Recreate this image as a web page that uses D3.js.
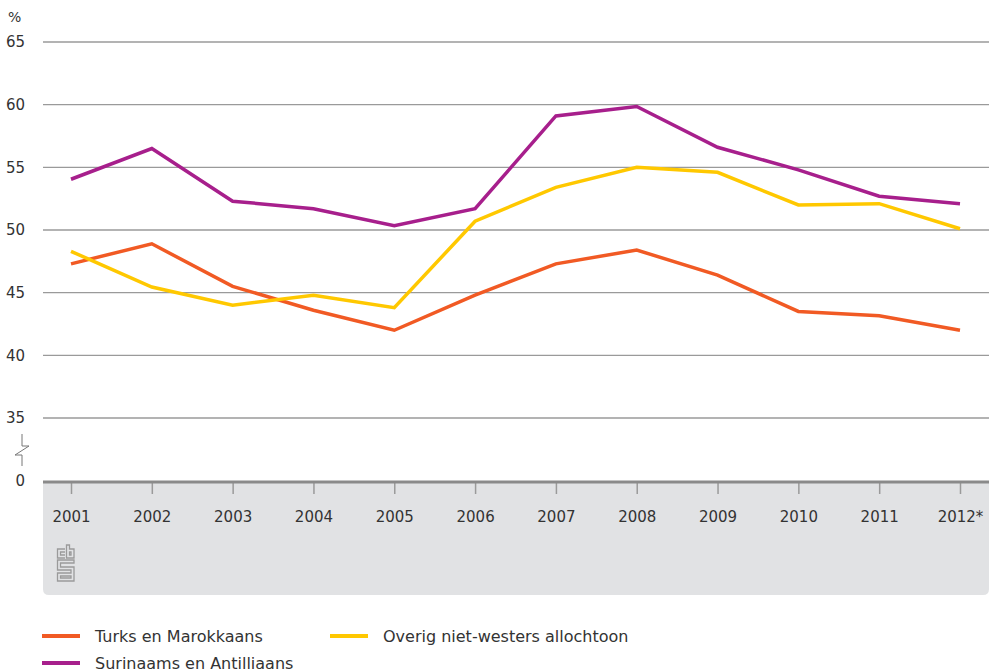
<!DOCTYPE html>
<html>
<head>
<meta charset="utf-8">
<script src="https://cdn.jsdelivr.net/npm/d3@7"></script>
<style>
  body { margin: 0; background: #fff; }
  svg text { font-family: "DejaVu Sans", sans-serif; fill: #333; }
</style>
</head>
<body>
<div id="chart"></div>
<script>
// data
const years = ["2001", "2002", "2003", "2004", "2005", "2006", "2007", "2008", "2009", "2010", "2011", "2012*"];
const turks = [47.3, 48.9, 45.5, 43.6, 42.0, 44.8, 47.3, 48.4, 46.4, 43.5, 43.15, 42.0];
const surinaams = [54.05, 56.5, 52.3, 51.7, 50.35, 51.7, 59.1, 59.85, 56.6, 54.8, 52.7, 52.1];
const overig = [48.3, 45.45, 44.0, 44.8, 43.8, 50.7, 53.4, 55.0, 54.6, 52.0, 52.1, 50.1];
const yTicks = [0, 35, 40, 45, 50, 55, 60, 65];
const seriesNames = ["Turks en Marokkaans", "Surinaams en Antilliaans", "Overig niet-westers allochtoon"];
const seriesColors = ["#f15a24", "#a71f8c", "#ffc800"];

const width = 989, height = 672;
const plotLeft = 43, plotRight = 989;
const baseY = 481;

const svg = d3.select("#chart")
  .append("svg")
  .attr("width", width)
  .attr("height", height);

// scales (broken axis between 0 and 35)
const x = d3.scalePoint()
  .domain(years)
  .range([71, 960]);

const y = d3.scaleLinear()
  .domain([0, 35, 65])
  .range([baseY, 418, 42]);

// grey panel under the x axis
const panelBottom = 595, r = 6;
svg.append("path")
  .attr("d", `M${plotLeft},${baseY} H${plotRight} V${panelBottom - r} Q${plotRight},${panelBottom} ${plotRight - r},${panelBottom} H${plotLeft + r} Q${plotLeft},${panelBottom} ${plotLeft},${panelBottom - r} Z`)
  .attr("fill", "#e1e2e4");

// gridlines
svg.append("g")
  .selectAll("line")
  .data(yTicks.filter(d => d > 0))
  .join("line")
    .attr("x1", plotLeft)
    .attr("x2", plotRight)
    .attr("y1", d => y(d))
    .attr("y2", d => y(d))
    .attr("stroke", "#9a9a9a")
    .attr("stroke-width", 1.3);

// y labels
const yAxis = svg.append("g")
  .attr("transform", "translate(25,0)")
  .call(d3.axisLeft(y).tickValues(yTicks).tickSize(0).tickPadding(0).tickFormat(d3.format("d")));
yAxis.select(".domain").remove();
yAxis.selectAll("text")
  .style("font-size", "15px")
  .style("font-family", "DejaVu Sans, sans-serif")
  .attr("fill", "#333");

svg.append("text")
  .attr("x", 8)
  .attr("y", 22)
  .style("font-size", "14px")
  .text("%");

// axis break symbol
svg.append("path")
  .attr("d", "M22,434 V446 H29 L15,455 H22 V466")
  .attr("fill", "none")
  .attr("stroke", "#777")
  .attr("stroke-width", 1);

// x axis
const xAxis = svg.append("g")
  .attr("transform", `translate(0,${baseY})`)
  .call(d3.axisBottom(x).tickSize(13).tickPadding(17));
xAxis.select(".domain").remove();
xAxis.selectAll(".tick line")
  .attr("stroke", "#9a9a9a")
  .attr("stroke-width", 1.5);
xAxis.selectAll("text")
  .style("font-size", "15px")
  .style("font-family", "DejaVu Sans, sans-serif")
  .attr("fill", "#333");

svg.append("line")
  .attr("x1", plotLeft)
  .attr("x2", plotRight)
  .attr("y1", baseY + 1)
  .attr("y2", baseY + 1)
  .attr("stroke", "#8a8a8a")
  .attr("stroke-width", 3);

// cbs logo
const logo = svg.append("g")
  .attr("fill", "none")
  .attr("stroke", "#9a9a9a")
  .attr("stroke-width", 1.3);
logo.append("path").attr("d", "M65,549 H57.5 V558 H65 M65,552 H60.5 V555 H65");
logo.append("path").attr("d", "M66.5,545 V558 H74 V549 H69.5 V545 Z M69.5,552 H71 V555 H69.5 Z");
logo.append("path").attr("d", "M74,560 H57.5 V570 H71 V573 H57.5 V581 H74 V567 H60.5 V563 H74 Z M60.5,576 H71 V578 H60.5 Z");

// lines
const line = d3.line()
  .x((d, i) => x(years[i]))
  .y(d => y(d));

const seriesData = [turks, overig, surinaams];
const seriesCol = [seriesColors[0], seriesColors[2], seriesColors[1]];

svg.append("g")
  .selectAll("path")
  .data(seriesData)
  .join("path")
    .attr("d", line)
    .attr("fill", "none")
    .attr("stroke", (d, i) => seriesCol[i])
    .attr("stroke-width", 3.5)
    .attr("stroke-linejoin", "miter");

// legend
const legendPos = [[42, 636], [42, 663], [330, 636]];
const legend = svg.append("g")
  .selectAll("g")
  .data(seriesNames)
  .join("g")
    .attr("transform", (d, i) => `translate(${legendPos[i][0]},${legendPos[i][1]})`);

legend.append("rect")
  .attr("x", 0)
  .attr("y", -2)
  .attr("width", 38)
  .attr("height", 4)
  .attr("fill", (d, i) => seriesColors[i]);

legend.append("text")
  .attr("x", 53)
  .attr("y", 0)
  .attr("dy", "0.35em")
  .style("font-size", "16px")
  .text(d => d);
</script>
</body>
</html>
